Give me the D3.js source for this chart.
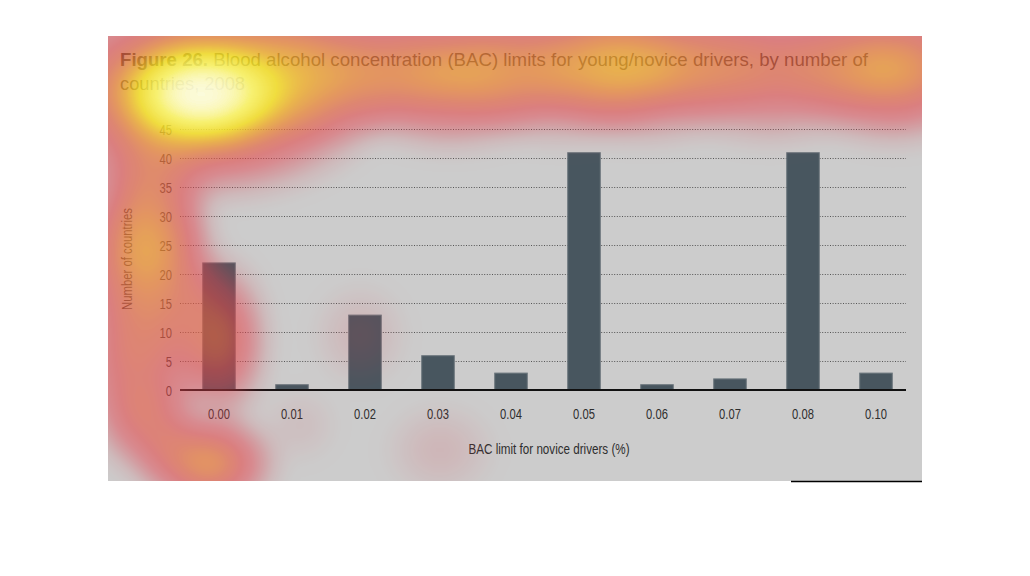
<!DOCTYPE html>
<html>
<head>
<meta charset="utf-8">
<script src="https://cdn.jsdelivr.net/npm/d3@7"></script>
<style>
  html, body { margin: 0; padding: 0; background: #ffffff; }
  svg { display: block; }
  text { font-family: "Liberation Sans", Arial, sans-serif; }
</style>
</head>
<body>
<svg id="chart" width="1030" height="576"></svg>
<script>
// ---- chart data ----
const categories = ["0.00", "0.01", "0.02", "0.03", "0.04", "0.05", "0.06", "0.07", "0.08", "0.10"];
const countries  = [22, 1, 13, 6, 3, 41, 1, 2, 41, 3];
const yTicks     = [0, 5, 10, 15, 20, 25, 30, 35, 40, 45];
const titleBold  = "Figure 26.";
const titleRest  = " Blood alcohol concentration (BAC) limits for young/novice drivers, by number of";
const titleLine2 = "countries, 2008";
const xTitle     = "BAC limit for novice drivers (%)";
const yTitle     = "Number of countries";

// ---- eye-tracking heat overlay: fixation spots (x, y, spreadX, spreadY, weight) ----
const gazeX  = [205, 200, 330, 450, 560, 647, 770, 893, 150, 140, 135, 150, 208, 222, 185, 360, 440, 300];
const gazeY  = [ 92,  95,  68,  74,  68,  66,  68,  69, 195, 265, 370, 430, 463, 340, 300, 335, 450, 425];
const gazeSX = [195,  95, 130, 130, 130, 130, 130, 120,  70,  80,  75,  60,  80,  55,  50,  55,  65,  45];
const gazeSY = [118,  62,  85,  85,  85,  85,  85,  85,  90, 110,  90,  60,  60,  95, 120,  60,  55,  45];
const gazeW  = [0.9, 0.95, 0.48, 0.62, 0.5, 0.62, 0.5, 0.65, 0.38, 0.62, 0.46, 0.35, 0.62, 0.5, 0.25, 0.12, 0.12, 0.08];

const svg = d3.select("#chart");
const panel = {x: 108, y: 36, w: 814, h: 445};
const plot = {left: 180, right: 906, top: 129, bottom: 390};
const narrow = 0.8;

function squeeze(sel, factor) {
  sel.each(function () {
    const n = this.getComputedTextLength();
    d3.select(this).attr("textLength", n * factor).attr("lengthAdjust", "spacingAndGlyphs");
  });
}

const defs = svg.append("defs");

// background panel
svg.append("rect")
  .attr("x", panel.x).attr("y", panel.y)
  .attr("width", panel.w).attr("height", panel.h)
  .attr("fill", "#cccccc");

// bottom-right rule
svg.append("line")
  .attr("x1", 791).attr("x2", panel.x + panel.w)
  .attr("y1", panel.y + panel.h + 0.5).attr("y2", panel.y + panel.h + 0.5)
  .attr("stroke", "#000").attr("stroke-width", 1.5);

// scales
const x = d3.scaleBand()
  .domain(categories)
  .range([182.5, 912.5])
  .paddingInner(0.54)
  .paddingOuter(0.27);
const y = d3.scaleLinear().domain([0, 45]).range([plot.bottom, plot.top]);

// gridlines
svg.append("g")
  .selectAll("line")
  .data(yTicks.filter(d => d > 0))
  .join("line")
  .attr("x1", plot.left).attr("x2", plot.right)
  .attr("y1", d => y(d) + 0.5).attr("y2", d => y(d) + 0.5)
  .attr("stroke", "#555")
  .attr("stroke-width", 1)
  .attr("stroke-dasharray", "1 1.6");

// y axis labels
const yAxis = d3.axisLeft(y).tickValues(yTicks).tickSize(0).tickPadding(0);
const gy = svg.append("g").attr("transform", `translate(172,0)`).call(yAxis);
gy.select(".domain").remove();
gy.selectAll("text")
  .attr("font-size", 14)
  .attr("fill", "#3a3a3a")
  .attr("dy", "0.36em")
  .style("font-family", "'Liberation Sans', Arial, sans-serif")
  .call(squeeze, narrow);

// bars
svg.append("g")
  .selectAll("rect")
  .data(categories.map((c, i) => ({c, v: countries[i]})))
  .join("rect")
  .attr("x", d => x(d.c) + 0.5)
  .attr("y", d => y(d.v) + 0.5)
  .attr("width", x.bandwidth() - 1)
  .attr("height", d => y(0) - y(d.v) - 0.5)
  .attr("fill", "#48565f")
  .attr("stroke", "#6d777e")
  .attr("stroke-width", 1);

// x axis
const xAxis = d3.axisBottom(x).tickSize(0).tickPadding(0);
const gx = svg.append("g").attr("transform", `translate(0,${plot.bottom})`).call(xAxis);
gx.select(".domain").remove();
gx.selectAll("text")
  .attr("font-size", 14)
  .attr("fill", "#2e2e2e")
  .attr("y", 29)
  .attr("dy", "0")
  .style("font-family", "'Liberation Sans', Arial, sans-serif")
  .call(squeeze, narrow);

svg.append("line")
  .attr("x1", plot.left).attr("x2", plot.right)
  .attr("y1", plot.bottom).attr("y2", plot.bottom)
  .attr("stroke", "#111").attr("stroke-width", 2);

// axis titles
svg.append("text")
  .attr("x", 549).attr("y", 454)
  .attr("text-anchor", "middle")
  .attr("font-size", 14)
  .attr("fill", "#2e2e2e")
  .attr("textLength", 161).attr("lengthAdjust", "spacingAndGlyphs")
  .text(xTitle);

svg.append("text")
  .attr("transform", "translate(132,259) rotate(-90)")
  .attr("text-anchor", "middle")
  .attr("font-size", 14)
  .attr("fill", "#3a3a3a")
  .attr("textLength", 102).attr("lengthAdjust", "spacingAndGlyphs")
  .text(yTitle);

// title
const t1 = svg.append("text")
  .attr("x", 120).attr("y", 66)
  .attr("font-size", 19)
  .attr("fill", "#333")
  .attr("textLength", 748).attr("lengthAdjust", "spacingAndGlyphs");
t1.append("tspan").attr("font-weight", "bold").attr("fill", "#2a2a2a").text(titleBold);
t1.append("tspan").text(titleRest);

svg.append("text")
  .attr("x", 120).attr("y", 90)
  .attr("font-size", 19)
  .attr("fill", "#333")
  .attr("textLength", 125).attr("lengthAdjust", "spacingAndGlyphs")
  .text(titleLine2);

// ---- heat overlay ----
const grad = defs.append("radialGradient").attr("id", "spot");
[[0, 1], [0.2, 0.92], [0.4, 0.72], [0.6, 0.45], [0.8, 0.18], [1, 0]].forEach(([o, a]) => {
  grad.append("stop").attr("offset", o).attr("stop-color", "#fff").attr("stop-opacity", a);
});

const filt = defs.append("filter")
  .attr("id", "heat")
  .attr("filterUnits", "userSpaceOnUse")
  .attr("x", panel.x).attr("y", panel.y)
  .attr("width", panel.w).attr("height", panel.h)
  .attr("color-interpolation-filters", "sRGB");
filt.append("feGaussianBlur").attr("in", "SourceGraphic").attr("stdDeviation", 10).attr("result", "b");
filt.append("feColorMatrix").attr("in", "b").attr("type", "matrix")
  .attr("values", "0 0 0 1 0  0 0 0 1 0  0 0 0 1 0  0 0 0 1 0");
const ct = filt.append("feComponentTransfer");
ct.append("feFuncR").attr("type", "table").attr("tableValues", ".86 .86 .88 .9 .9 .91 .93 .95 .97 .99 1");
ct.append("feFuncG").attr("type", "table").attr("tableValues", ".25 .25 .25 .26 .28 .38 .52 .68 .88 .96 1");
ct.append("feFuncB").attr("type", "table").attr("tableValues", ".3 .3 .3 .3 .28 .25 .2 .16 .14 .4 .95");
ct.append("feFuncA").attr("type", "table").attr("tableValues", "0 .14 .32 .48 .58 .65 .72 .78 .84 .9 .96");

const gaze = gazeX.map((gxv, i) => ({x: gxv, y: gazeY[i], sx: gazeSX[i], sy: gazeSY[i], w: gazeW[i]}));
svg.append("g")
  .attr("filter", "url(#heat)")
  .selectAll("ellipse")
  .data(gaze)
  .join("ellipse")
  .attr("cx", d => d.x).attr("cy", d => d.y)
  .attr("rx", d => d.sx).attr("ry", d => d.sy)
  .attr("fill", "url(#spot)")
  .attr("fill-opacity", d => d.w);
</script>
</body>
</html>
